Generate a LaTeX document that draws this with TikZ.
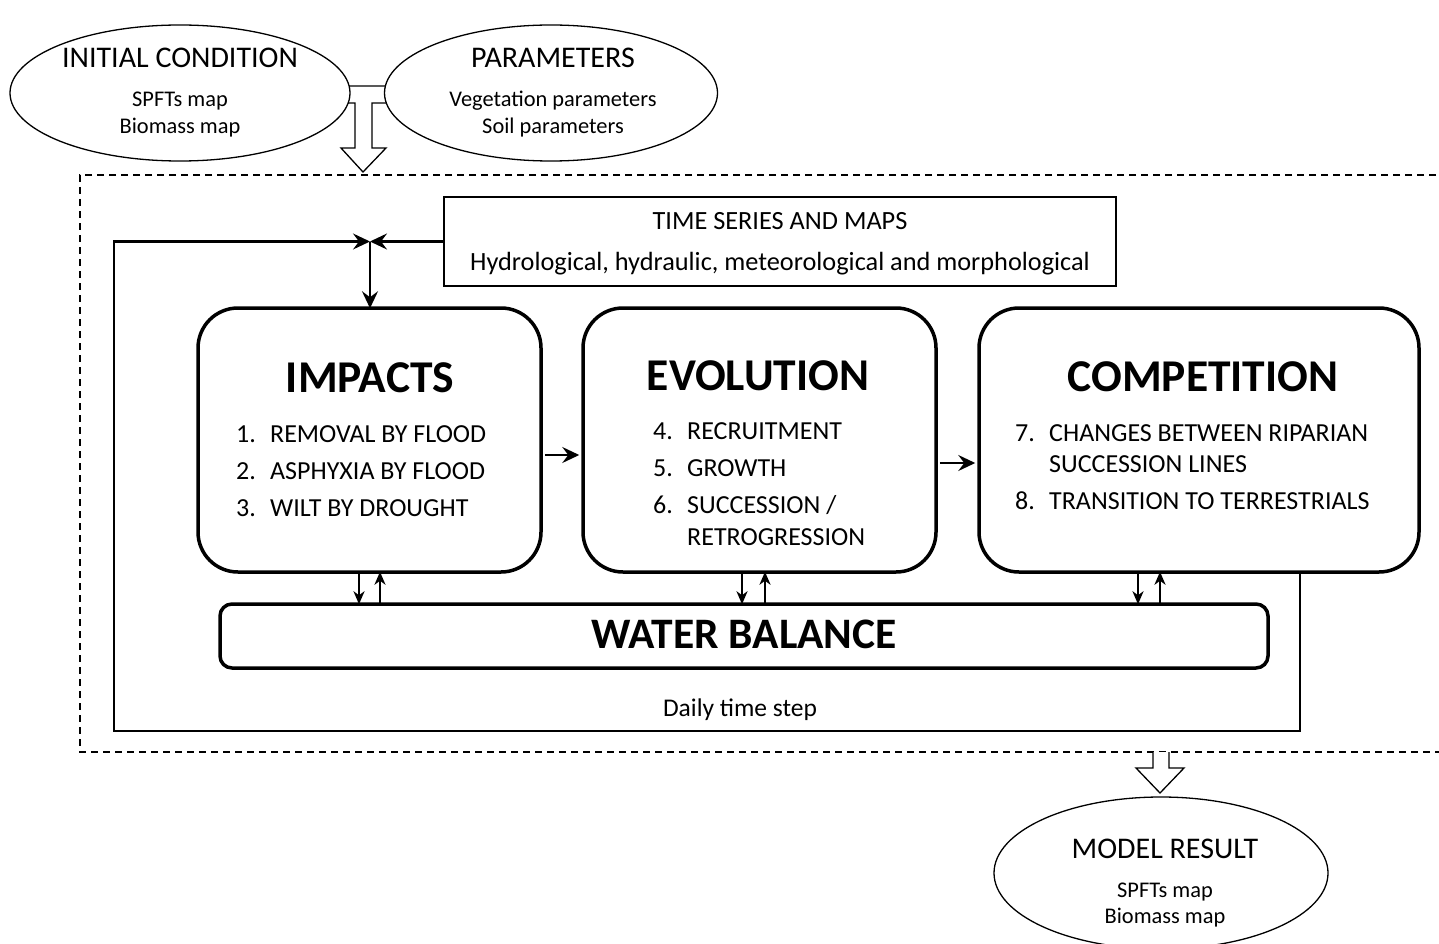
\documentclass[tikz,border=0pt]{standalone}
\usepackage{fontspec}
\setmainfont{Carlito}
\usetikzlibrary{shapes.geometric,arrows.meta,calc}
\begin{document}
\begin{tikzpicture}[x=1pt,y=-1pt,
  ell/.style={draw, ellipse, line width=1.3pt, fill=white, inner sep=0},
  bigbox/.style={draw, rounded corners=40pt, line width=3.5pt, inner sep=0},
  wbbox/.style={draw, rounded corners=12pt, line width=3.5pt, inner sep=0},
  tsbox/.style={draw, line width=1.3pt, inner sep=0},
  conn/.style={line width=2.2pt},
  tip/.style={-{Stealth[length=17pt,width=16pt,inset=6pt]}},
  smalltip/.style={-{Stealth[length=13pt,width=11pt,inset=4pt]}},
  title/.style={font=\fontsize{30}{32}\selectfont},
  sub/.style={font=\fontsize{22.4}{24}\selectfont},
  head/.style={font=\fontsize{45.5}{48}\selectfont\bfseries},
  item/.style={font=\fontsize{26}{28}\selectfont, anchor=base west, inner sep=0},
  blockarrow/.style={draw, line width=1.3pt, fill=white, line join=miter},
  dashedbox/.style={draw, line width=1.3pt, dash pattern=on 7pt off 5pt}
]
\useasboundingbox (0,0) rectangle (1439,944);
\fill[white] (0,0) rectangle (1439,944);

% input block arrow
\draw[blockarrow] (330,86) -- (400,86) -- (400,103) -- (372,103) -- (372,148) -- (386,148) -- (363,172) -- (341,148) -- (355,148) -- (355,103) -- (330,103) -- cycle;

% ellipses
\node[ell, minimum width=340pt, minimum height=136pt] (init) at (180,93) {};
\node[title] at (180,58) {INITIAL CONDITION};
\node[sub] at (180,101) {SPFTs map};
\node[sub] at (180,128) {Biomass map};

\node[ell, minimum width=333pt, minimum height=136pt] (par) at (551,93) {};
\node[title] at (553,58) {PARAMETERS};
\node[sub] at (553,101) {Vegetation parameters};
\node[sub] at (553,128) {Soil parameters};

% dashed frame
\draw[dashedbox] (1460,175) -- (80,175) -- (80,752) -- (1460,752);

% time series box
\node[tsbox, minimum width=672pt, minimum height=89pt] (ts) at (780,241.5) {};
\node[font=\fontsize{26.3}{28}\selectfont] at (780,221) {TIME SERIES AND MAPS};
\node[font=\fontsize{26.3}{28}\selectfont] at (780,264) {Hydrological, hydraulic, meteorological and morphological};

% main boxes
\node[bigbox, minimum width=343pt, minimum height=264pt] (imp) at (369.5,440) {};
\node[bigbox, minimum width=353pt, minimum height=264pt] (evo) at (759.5,440) {};
\node[bigbox, minimum width=440pt, minimum height=264pt] (comp) at (1199,440) {};
\node[wbbox, minimum width=1048pt, minimum height=64pt] (wb) at (744,636) {};

\node[head] at (370,378) {IMPACTS};
\node[item] at (236,442) {\makebox[34pt][l]{1.}REMOVAL BY FLOOD};
\node[item] at (236,479) {\makebox[34pt][l]{2.}ASPHYXIA BY FLOOD};
\node[item] at (236,516) {\makebox[34pt][l]{3.}WILT BY DROUGHT};

\node[head] at (758,376) {EVOLUTION};
\node[item] at (653,439) {\makebox[34pt][l]{4.}RECRUITMENT};
\node[item] at (653,476) {\makebox[34pt][l]{5.}GROWTH};
\node[item] at (653,513) {\makebox[34pt][l]{6.}SUCCESSION /};
\node[item] at (653,545) {\makebox[34pt][l]{}RETROGRESSION};

\node[head] at (1203,377) {COMPETITION};
\node[item] at (1015,441) {\makebox[34pt][l]{7.}CHANGES BETWEEN RIPARIAN};
\node[item] at (1015,472) {\makebox[34pt][l]{}SUCCESSION LINES};
\node[item] at (1015,509) {\makebox[34pt][l]{8.}TRANSITION TO TERRESTRIALS};

\node[font=\fontsize{43.5}{46}\selectfont\bfseries] at (744,634) {WATER BALANCE};

% feedback loop
\coordinate (j) at (370,241.5);
\coordinate (d1) at (1300,731);
\coordinate (d2) at (114,731);
\draw[conn,tip] (ts.west) -- (j);
\draw[conn,tip] (comp.south -| d1) -- (d1) -- (d2) -- (d2 |- j) -- (j);
\draw[conn,tip] (j) -- ([yshift=-2pt]imp.north -| j);
\node[font=\fontsize{25.5}{27}\selectfont] (dts) at (740,710) {Daily time step};

% flow arrows
\draw[conn,tip] ($(imp.east)+(2,15)$) -- ($(evo.west |- imp.east)+(-2,15)$);
\draw[conn,tip] ($(evo.east)+(2,23)$) -- ($(comp.west |- evo.east)+(-2,23)$);

% water balance exchanges
\draw[conn,smalltip] ([xshift=-10.5pt,yshift=2pt]imp.south) -- ([xshift=-10.5pt,yshift=-2pt]imp.south |- wb.north);
\draw[conn,smalltip] ([xshift=10.5pt,yshift=-2pt]imp.south |- wb.north) -- ([xshift=10.5pt,yshift=2pt]imp.south);
\draw[conn,smalltip] ([xshift=-17.5pt,yshift=2pt]evo.south) -- ([xshift=-17.5pt,yshift=-2pt]evo.south |- wb.north);
\draw[conn,smalltip] ([xshift=5.5pt,yshift=-2pt]evo.south |- wb.north) -- ([xshift=5.5pt,yshift=2pt]evo.south);
\draw[conn,smalltip] ([xshift=-61pt,yshift=2pt]comp.south) -- ([xshift=-61pt,yshift=-2pt]comp.south |- wb.north);
\draw[conn,smalltip] ([xshift=-39pt,yshift=-2pt]comp.south |- wb.north) -- ([xshift=-39pt,yshift=2pt]comp.south);

% output block arrow
\draw[blockarrow] (1153,752) -- (1153,768) -- (1136,768) -- (1160,793) -- (1184,768) -- (1169,768) -- (1169,752);

\node[ell, minimum width=334pt, minimum height=152pt] (res) at (1161,873) {};
\node[title] at (1165,849) {MODEL RESULT};
\node[sub] at (1165,892) {SPFTs map};
\node[sub] at (1165,918) {Biomass map};
\end{tikzpicture}
\end{document}
